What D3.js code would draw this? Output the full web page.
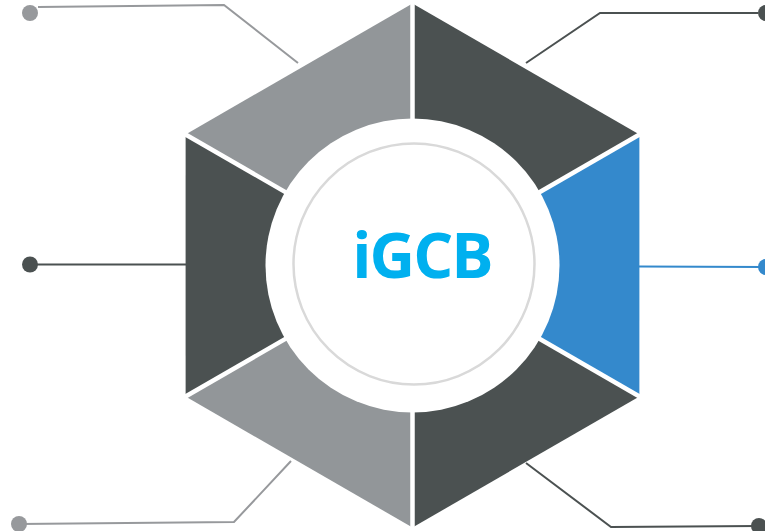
<!DOCTYPE html>
<html>
<head>
<meta charset="utf-8">
<script src="https://cdn.jsdelivr.net/npm/d3@7"></script>
<style>
  html, body { margin: 0; padding: 0; background: #ffffff; }
  svg { display: block; }
</style>
</head>
<body>
<svg id="chart" width="765" height="531"></svg>
<script>
// ---- data ----
const segments = ["upper-right", "right", "lower-right", "lower-left", "left", "upper-left"];
const segmentValues = [1, 1, 1, 1, 1, 1];
const segmentColors = ["#4b5151", "#3489cc", "#4b5151", "#929699", "#4b5151", "#929699"];
const centerLabel = "iGCB";

// ---- layout ----
const W = 765, H = 531;
const cx = 412.5, cy = 265.5;
const hexR = 262;
const whiteR = 147;
const ringR = 120.5;

// callout leader polylines (dot end last), keyed by segment
const callouts = {
  "upper-left":  { pts: [[298, 63], [224, 5], [38, 7]],   dot: [30, 13],  color: "#97999c" },
  "upper-right": { pts: [[526, 63], [600, 13], [758, 13]], dot: [766, 13], color: "#4b5151" },
  "left":        { pts: [[186, 264.5], [30, 264.5]],       dot: [30, 264.5], color: "#4b5151" },
  "right":       { pts: [[639, 266.5], [765, 267]],        dot: [766, 267], color: "#3489cc" },
  "lower-left":  { pts: [[291, 461], [234, 522], [19, 524]], dot: [19, 524], color: "#97999c" },
  "lower-right": { pts: [[526, 463], [611, 527], [758, 526]], dot: [759, 526], color: "#4b5151" }
};

const svg = d3.select("#chart");
const g = svg.append("g").attr("transform", `translate(${cx},${cy})`);

const pie = d3.pie().sort(null).value(d => d).startAngle(0).endAngle(2 * Math.PI);
const arcs = pie(segmentValues);
const rScale = d3.scaleLinear().domain([0, 1]).range([0, hexR]);
const pt = (a, r) => [Math.sin(a) * r, -Math.cos(a) * r];
const line = d3.line();

// segments (triangles center->vertex->vertex)
g.selectAll("path.seg")
  .data(arcs)
  .join("path")
  .attr("class", "seg")
  .attr("d", d => line([[0, 0], pt(d.startAngle, rScale(1)), pt(d.endAngle, rScale(1))]) + "Z")
  .attr("fill", (d, i) => segmentColors[i]);

// white separators along vertex rays
g.selectAll("line.sep")
  .data(arcs)
  .join("line")
  .attr("class", "sep")
  .attr("x1", 0).attr("y1", 0)
  .attr("x2", d => pt(d.startAngle, rScale(1.05))[0])
  .attr("y2", d => pt(d.startAngle, rScale(1.05))[1])
  .attr("stroke", "#ffffff")
  .attr("stroke-width", 4.5);

// white center disk and gray ring
g.append("circle").attr("r", whiteR).attr("fill", "#ffffff");
svg.append("circle")
  .attr("cx", cx + 1.5).attr("cy", cy - 1.5)
  .attr("r", ringR)
  .attr("fill", "none")
  .attr("stroke", "#d9d9d9")
  .attr("stroke-width", 2.5);

// label
svg.append("text")
  .attr("x", 422).attr("y", 278)
  .attr("text-anchor", "middle")
  .attr("font-family", "'Open Sans', 'Noto Sans', sans-serif")
  .attr("font-weight", 700)
  .attr("font-size", 63)
  .attr("letter-spacing", -2)
  .attr("fill", "#00b0ef")
  .text(centerLabel);

// callouts
const lineG = svg.append("g");
segments.forEach(name => {
  const c = callouts[name];
  lineG.append("path")
    .attr("d", line(c.pts))
    .attr("fill", "none")
    .attr("stroke", c.color)
    .attr("stroke-width", 2);
  lineG.append("circle")
    .attr("cx", c.dot[0]).attr("cy", c.dot[1])
    .attr("r", 8)
    .attr("fill", c.color);
});
</script>
</body>
</html>
